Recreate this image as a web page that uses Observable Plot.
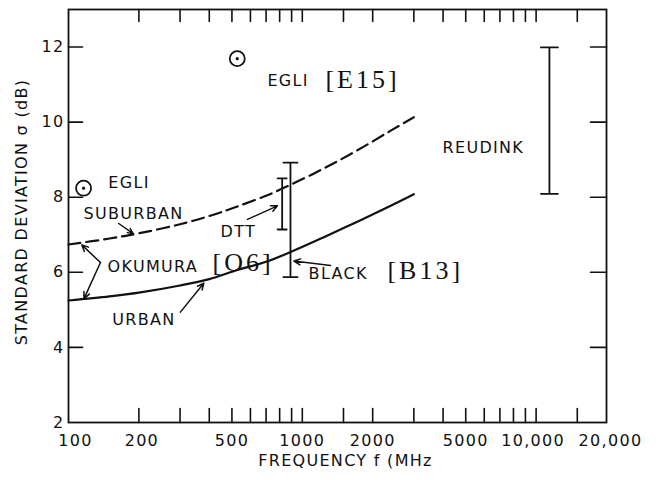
<!DOCTYPE html>
<html>
<head>
<meta charset="utf-8">
<script src="https://cdn.jsdelivr.net/npm/d3@7"></script>
<script src="https://cdn.jsdelivr.net/npm/@observablehq/plot@0.6"></script>
<style>
  body { margin: 0; background: #fff; }
  #chart g[font-family*="Serif"] { letter-spacing: 3px; }
</style>
</head>
<body>
<div id="chart"></div>
<script>
// Okumura location-variability curves (sigma in dB vs frequency in MHz)
const urbanFreq = [100, 150, 200, 300, 400, 520, 700, 890, 1230, 1720, 2400, 3000];
const urbanSigma = [5.25, 5.36, 5.46, 5.65, 5.82, 6.05, 6.28, 6.54, 6.93, 7.35, 7.78, 8.08];
const suburbanFreq = [100, 150, 200, 300, 430, 520, 700, 890, 1230, 1720, 2400, 3000];
const suburbanSigma = [6.74, 6.9, 7.04, 7.28, 7.56, 7.74, 8.04, 8.33, 8.76, 9.25, 9.78, 10.13];

// Egli single-value estimates
const egliFreq = [116, 527];
const egliSigma = [8.24, 11.69];

// Measured spreads (DTT, Black, Reudink)
const rangeName = ["DTT", "BLACK", "REUDINK"];
const rangeFreq = [820, 890, 11400];
const rangeLow = [7.14, 5.87, 8.09];
const rangeHigh = [8.5, 8.92, 11.99];

// Axis ticks and labels
const xTicks = [200, 300, 400, 500, 600, 700, 800, 900, 1000, 1500, 2000, 3000, 4000, 5000, 6000, 7000, 8000, 9000, 10000, 15000];
const xTickLabels = [100, 200, 500, 1000, 2000, 5000, 10000, 20000];
const yTicks = [4, 6, 8, 10, 12];
const yTickLabels = [2, 4, 6, 8, 10, 12];

// Annotation labels, anchored at (frequency, sigma) of their left baseline
const noteText = ["EGLI", "EGLI", "SUBURBAN", "DTT", "OKUMURA", "URBAN", "BLACK", "REUDINK"];
const noteFreq = [709, 148, 116, 447, 147, 154, 1064, 3980];
const noteSigma = [10.95, 8.24, 7.43, 6.95, 6.01, 4.61, 5.83, 9.19];

// Reference tags
const refText = ["[E15]", "[O6]", "[B13]"];
const refFreq = [1256, 413, 2312];
const refSigma = [10.92, 6.04, 5.83];

// Leader arrows: tail (x1, y1) to head (x2, y2)
const arrowX1 = [164, 583, 137, 137, 301, 1320];
const arrowY1 = [7.30, 7.41, 6.26, 6.26, 4.94, 6.18];
const arrowX2 = [189, 783, 114, 116.5, 379, 921];
const arrowY2 = [7.03, 7.77, 6.73, 5.30, 5.71, 6.30];

// ---- tables built from the arrays ----
const urban = urbanFreq.map((f, i) => ({f, s: urbanSigma[i]}));
const suburban = suburbanFreq.map((f, i) => ({f, s: suburbanSigma[i]}));
const egli = egliFreq.map((f, i) => ({f, s: egliSigma[i]}));
const ranges = rangeName.map((name, i) => ({name, f: rangeFreq[i], lo: rangeLow[i], hi: rangeHigh[i]}));
const notes = noteText.map((t, i) => ({t, f: noteFreq[i], s: noteSigma[i]}));
const refs = refText.map((t, i) => ({t, f: refFreq[i], s: refSigma[i]}));
const arrows = arrowX1.map((x1, i) => ({x1, y1: arrowY1[i], x2: arrowX2[i], y2: arrowY2[i]}));

const capWidth = {DTT: 9, BLACK: 14, REUDINK: 17};
const xLabelNudge = {100: 7, 200: 3, 10000: -3, 20000: 4};

const fmtX = d => d >= 10000 ? d3.format(",")(d) : String(d);

// a plain straight stroke used for ticks and error-bar caps
const stroke = {draw(ctx, l) { ctx.moveTo(0, 0); ctx.lineTo(0, -l); }};

const ink = "#111";

const marks = [
  // inward ticks on all four sides
  Plot.vector(xTicks, {x: d => d, frameAnchor: "bottom", rotate: 0, length: 14, anchor: "start", shape: stroke, stroke: ink, strokeWidth: 1.6}),
  Plot.vector(xTicks, {x: d => d, frameAnchor: "top", rotate: 180, length: 12, anchor: "start", shape: stroke, stroke: ink, strokeWidth: 1.6}),
  Plot.vector(yTicks, {y: d => d, frameAnchor: "left", rotate: 90, length: 14, anchor: "start", shape: stroke, stroke: ink, strokeWidth: 1.6}),
  Plot.vector(yTicks, {y: d => d, frameAnchor: "right", rotate: -90, length: 16, anchor: "start", shape: stroke, stroke: ink, strokeWidth: 1.6}),
  Plot.frame({stroke: ink, strokeWidth: 1.8}),

  // y tick labels
  Plot.text(yTickLabels, {y: d => d, text: d => String(d), frameAnchor: "left", textAnchor: "end", lineAnchor: "middle", dx: -4, fill: ink}),

  // x axis title and y axis title
  Plot.text(["FREQUENCY f (MHz"], {frameAnchor: "bottom", textAnchor: "middle", lineAnchor: "bottom", dy: 43, dx: 8, fill: ink}),
  Plot.text(["STANDARD DEVIATION \u03c3 (dB)"], {frameAnchor: "left", textAnchor: "middle", rotate: -90, lineAnchor: "middle", dx: -47, dy: -4, fill: ink}),

  // Okumura curves
  Plot.line(suburban, {x: "f", y: "s", curve: "catmull-rom", stroke: ink, strokeWidth: 2.2, strokeDasharray: "12,6"}),
  Plot.line(urban, {x: "f", y: "s", curve: "catmull-rom", stroke: ink, strokeWidth: 2.2}),

  // Egli points: ring with a centre dot
  Plot.dot(egli, {x: "f", y: "s", r: 7.5, stroke: ink, strokeWidth: 1.8, fill: "none"}),
  Plot.dot(egli, {x: "f", y: "s", r: 1.6, fill: ink, stroke: "none"}),

  // measured spreads
  Plot.ruleX(ranges, {x: "f", y1: "lo", y2: "hi", stroke: ink, strokeWidth: 1.8}),

  // leader arrows
  Plot.arrow(arrows, {x1: "x1", y1: "y1", x2: "x2", y2: "y2", stroke: ink, strokeWidth: 1.5, headLength: 7, headAngle: 50}),

  // annotation labels
  Plot.text(notes, {x: "f", y: "s", text: "t", textAnchor: "start", lineAnchor: "bottom", fill: ink}),
  Plot.text(refs, {x: "f", y: "s", text: "t", textAnchor: "start", lineAnchor: "bottom", fill: ink, fontFamily: "Liberation Serif", fontSize: 26})
];

// error-bar caps, width per series
for (const r of ranges) {
  marks.push(Plot.vector([r], {x: "f", y: "lo", rotate: 90, length: capWidth[r.name], anchor: "middle", shape: stroke, stroke: ink, strokeWidth: 1.8}));
  marks.push(Plot.vector([r], {x: "f", y: "hi", rotate: 90, length: capWidth[r.name], anchor: "middle", shape: stroke, stroke: ink, strokeWidth: 1.8}));
}

// x tick labels, a few nudged as lettered on the sheet
for (const v of xTickLabels) {
  marks.push(Plot.text([v], {x: d => d, text: fmtX, frameAnchor: "bottom", textAnchor: "middle", lineAnchor: "bottom", dy: 23, dx: xLabelNudge[v] || 0, fill: ink}));
}

const chart = Plot.plot({
  width: 658,
  height: 480,
  marginLeft: 68,
  marginRight: 52,
  marginTop: 9,
  marginBottom: 58,
  x: {type: "log", domain: [100, 20000], axis: null},
  y: {domain: [2, 13], axis: null},
  style: {fontFamily: "DejaVu Sans", fontSize: "16px", letterSpacing: "1.3px", background: "#fff", color: ink},
  marks
});

document.getElementById("chart").appendChild(chart);
</script>
</body>
</html>
